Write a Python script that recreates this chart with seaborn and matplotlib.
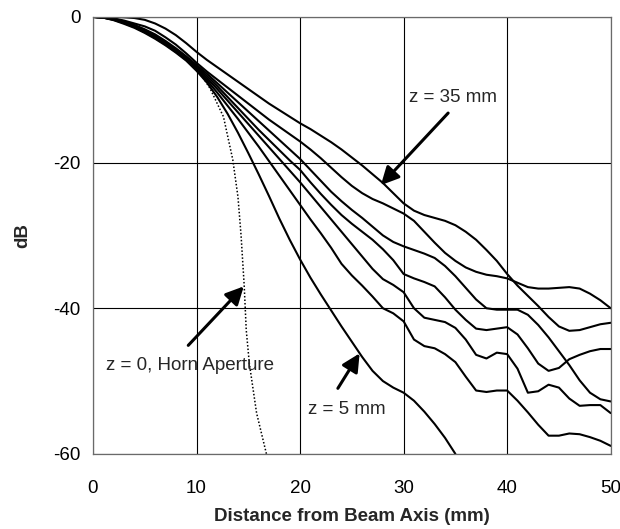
import numpy as np
import pandas as pd
import matplotlib
matplotlib.use("Agg")
import matplotlib.pyplot as plt
import seaborn as sns

# Off-axis distance (mm) shared by the measured cuts
distance_mm = np.arange(0, 51)

# Relative power (dB) versus distance from the beam axis, one cut per plane z
db_z35 = [0, 0, 0, -0.05, -0.15, -0.4, -0.9, -1.6, -2.5, -3.6,
          -4.8, -5.9, -6.9, -7.9, -8.9, -9.9, -10.9, -11.9, -12.8, -13.7,
          -14.6, -15.4, -16.3, -17.2, -18.2, -19.3, -20.4, -21.6, -22.8, -24.2,
          -25.6, -26.6, -27.2, -27.6, -28.0, -28.6, -29.5, -30.6, -32.0, -33.5,
          -35.3, -36.9, -38.3, -39.7, -41.2, -42.5, -43.1, -43.0, -42.6, -42.2,
          -42.0]
db_z30 = [0, -0.05, -0.2, -0.5, -0.9, -1.3, -1.9, -2.8, -3.8, -5.0,
          -6.3, -7.5, -8.6, -9.7, -10.8, -11.9, -13.0, -14.1, -15.1, -16.1,
          -17.1, -18.2, -19.4, -20.7, -22.0, -23.2, -24.2, -25.0, -25.6, -26.3,
          -27.0, -28.0, -29.5, -31.0, -32.4, -33.5, -34.4, -35.0, -35.4, -35.6,
          -35.9, -36.5, -37.1, -37.3, -37.3, -37.2, -37.1, -37.3, -38.0, -38.9,
          -40.0]
db_z25 = [0, -0.05, -0.25, -0.6, -1.1, -1.7, -2.4, -3.3, -4.3, -5.4,
          -6.6, -7.8, -9.1, -10.4, -11.7, -13.0, -14.3, -15.6, -16.9, -18.2,
          -19.5, -21.0, -22.5, -24.0, -25.3, -26.5, -27.6, -28.8, -30.0, -30.9,
          -31.5, -32.0, -32.5, -33.1, -34.2, -35.6, -37.2, -38.8, -40.0, -40.2,
          -40.2, -40.2, -40.9, -42.3, -44.0, -45.9, -47.8, -49.9, -51.6, -52.5,
          -52.8]
db_z20 = [0, -0.1, -0.3, -0.7, -1.2, -1.8, -2.6, -3.5, -4.5, -5.6,
          -6.8, -8.1, -9.5, -11.0, -12.5, -14.0, -15.5, -16.9, -18.3, -19.7,
          -21.0, -22.7, -24.3, -25.8, -27.2, -28.4, -29.5, -30.6, -31.9, -33.4,
          -35.3, -35.9, -36.4, -37.0, -38.5, -40.2, -41.6, -42.8, -43.0, -42.8,
          -42.6, -43.6, -45.5, -47.6, -48.6, -48.2, -47.0, -46.4, -45.9, -45.6,
          -45.6]
db_z15 = [0, -0.1, -0.35, -0.8, -1.3, -2.0, -2.8, -3.7, -4.7, -5.8,
          -7.0, -8.4, -9.9, -11.5, -13.1, -14.7, -16.3, -17.9, -19.5, -21.1,
          -22.7, -24.4, -26.1, -27.8, -29.5, -31.2, -32.9, -34.6, -36.0, -36.8,
          -37.8, -40.0, -41.3, -41.6, -41.9, -42.7, -44.3, -46.4, -46.9, -46.1,
          -46.3, -48.3, -51.6, -51.4, -50.5, -50.9, -52.4, -53.4, -53.3, -53.3,
          -54.4]
db_z10 = [0, -0.1, -0.4, -0.85, -1.4, -2.1, -2.9, -3.8, -4.8, -5.9,
          -7.2, -8.7, -10.4, -12.2, -14.0, -15.9, -17.8, -19.8, -21.8, -23.8,
          -25.8, -27.8, -29.7, -31.7, -33.9, -35.5, -36.9, -38.4, -40.0, -40.7,
          -41.8, -44.3, -45.2, -45.5, -46.3, -47.4, -49.4, -51.3, -51.5, -51.3,
          -51.3, -52.7, -54.3, -56.0, -57.5, -57.5, -57.2, -57.3, -57.7, -58.2,
          -58.9]

# The z = 5 mm cut falls below the plotted range beyond 35 mm
distance_z5 = np.arange(0, 36)
db_z5 = [0, -0.1, -0.45, -0.95, -1.5, -2.2, -3.0, -3.9, -4.9, -6.0,
         -7.4, -9.0, -11.0, -13.3, -15.9, -18.7, -21.6, -24.6, -27.7, -30.6,
         -33.3, -35.8, -38.1, -40.3, -42.5, -44.6, -46.7, -48.6, -50.0, -50.9,
         -51.6, -52.7, -54.2, -55.9, -57.8, -60.0]

# Field in the horn aperture plane (z = 0)
aperture_distance = [0, 2, 4, 6, 8, 10, 11.3, 12.6, 13.5, 14.0, 14.3, 14.6,
                     14.8, 15.1, 15.8, 16.75]
aperture_db = [0, -0.3, -1.2, -2.6, -4.4, -7.0, -9.8, -13.7, -19.6, -24.7,
               -30.0, -36.8, -43.0, -47.6, -54.4, -60.0]

x_ticks = [0, 10, 20, 30, 40, 50]
y_ticks = [0, -20, -40, -60]

cuts = pd.concat([
    pd.DataFrame({"distance": distance_mm, "dB": vals, "plane": name})
    for name, vals in [("z35", db_z35), ("z30", db_z30), ("z25", db_z25),
                       ("z20", db_z20), ("z15", db_z15), ("z10", db_z10)]
] + [pd.DataFrame({"distance": distance_z5, "dB": db_z5, "plane": "z5"})],
    ignore_index=True)

sns.set_theme(style="white")
plt.rcParams["font.family"] = ["Liberation Sans", "DejaVu Sans"]
plt.rcParams["axes.unicode_minus"] = False

fig = plt.figure(figsize=(6.2, 5.29), dpi=100)
ax = fig.add_axes([0.150, 0.142, 0.835, 0.826])

sns.lineplot(data=cuts, x="distance", y="dB", units="plane", estimator=None,
             color="black", linewidth=1.5, ax=ax, legend=False,
             solid_joinstyle="round")
sns.lineplot(x=aperture_distance, y=aperture_db, sort=False, color="black",
             linewidth=1.1, linestyle=(0, (1, 1.3)), ax=ax)

ax.set_xlim(0, 50)
ax.set_ylim(-60, 0)
ax.set_xticks(x_ticks)
ax.set_yticks(y_ticks)
ax.set_xticklabels([str(v) for v in x_ticks])
ax.set_yticklabels([str(v) for v in y_ticks])
ax.tick_params(axis="both", length=0, labelsize=13.5, colors="black")
ax.tick_params(axis="x", pad=19)
ax.tick_params(axis="y", pad=9)
ax.grid(True, color="black", linewidth=0.8)
for spine in ax.spines.values():
    spine.set_color("#6a6a6a")
    spine.set_linewidth(0.9)

ax.set_xlabel("Distance from Beam Axis (mm)", fontsize=13.5, fontweight="bold",
              labelpad=8)
ax.set_ylabel("dB", fontsize=13.5, fontweight="bold", labelpad=16)

arrow = dict(arrowstyle="-|>,head_length=0.9,head_width=0.45", color="black",
             lw=2.2, shrinkA=0, shrinkB=0)
ax.annotate("", xy=(27.8, -23.1), xytext=(34.3, -13.2), arrowprops=arrow)
ax.text(34.8, -11.0, "z = 35 mm", fontsize=13.5, ha="center", va="center")

ax.annotate("", xy=(14.56, -37.0), xytext=(9.2, -45.1), arrowprops=arrow)
ax.text(9.35, -47.8, "z = 0, Horn Aperture", fontsize=13.5, ha="center",
        va="center")

ax.annotate("", xy=(25.75, -46.2), xytext=(23.65, -51.0), arrowprops=arrow)
ax.text(24.5, -53.9, "z = 5 mm", fontsize=13.5, ha="center", va="center")

fig.savefig("out.png", dpi=100)
